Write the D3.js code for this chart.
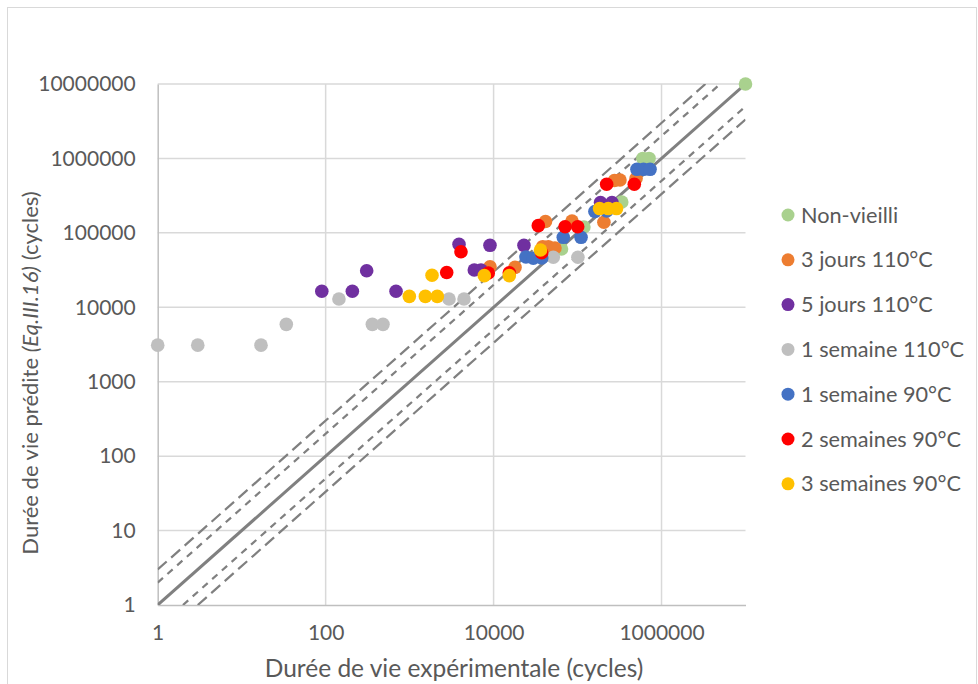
<!DOCTYPE html>
<html>
<head>
<meta charset="utf-8">
<script src="https://cdn.jsdelivr.net/npm/d3@7"></script>
<style>
  html, body { margin: 0; padding: 0; background: #fff; }
  svg { display: block; }
  text { font-family: Lato, "Open Sans", sans-serif; fill: #595959; }
</style>
</head>
<body>
<svg id="chart" width="978" height="684"></svg>
<script>
// ---- Data ----
const seriesNames = ["Non-vieilli", "3 jours 110°C", "5 jours 110°C", "1 semaine 110°C",
                     "1 semaine 90°C", "2 semaines 90°C", "3 semaines 90°C"];
const seriesColors = ["#a9d18e", "#ed7d31", "#7030a0", "#bfbfbf", "#4472c4", "#ff0000", "#ffc000"];

const nonVieilliX = [64400, 119000, 336000, 600000, 710000, 10000000];
const nonVieilliY = [60700, 120000, 260000, 1000000, 1000000, 10000000];

const jours3X = [9060, 18000, 38500, 44900, 53800, 41500, 85900, 206000, 275000, 320000, 497000];
const jours3Y = [35100, 34400, 65200, 65200, 62600, 142000, 144000, 139000, 505000, 513000, 537000];

const jours5X = [90, 208, 308, 689, 3875, 9060, 5890, 7080, 23000, 187600, 257000];
const jours5Y = [16400, 16400, 31000, 16400, 70200, 68000, 31700, 31700, 68000, 256000, 256000];

const sem1_110X = [1, 3, 17, 34, 144, 360, 482, 2945, 4445, 51400, 101000];
const sem1_110Y = [3100, 3100, 3100, 5900, 12900, 5900, 5900, 12900, 12900, 47000, 47000];

const sem1_90X = [24300, 29700, 37400, 67600, 110000, 161000, 222000, 510000, 610000, 730000];
const sem1_90Y = [47400, 45500, 46000, 87100, 87100, 194000, 197000, 714000, 714000, 714000];

const sem2_90X = [2765, 4090, 8650, 15400, 37400, 34100, 71000, 100400, 222000, 474000];
const sem2_90Y = [29300, 55800, 28900, 29000, 54100, 125000, 121000, 121000, 449000, 449000];

const sem3_90X = [992, 1540, 2135, 1848, 7750, 15400, 36200, 183000, 232000, 291000];
const sem3_90Y = [14000, 14000, 14000, 26900, 26600, 26600, 58900, 212000, 212000, 212000];

const seriesX = [nonVieilliX, jours3X, jours5X, sem1_110X, sem1_90X, sem2_90X, sem3_90X];
const seriesY = [nonVieilliY, jours3Y, jours5Y, sem1_110Y, sem1_90Y, sem2_90Y, sem3_90Y];

// reference lines y = k * x
const refFactors = [1, 2, 0.5, 3, 1/3];
const refDash = [null, "7,6", "7,6", "12,6", "12,6"];

const xTicks = [1, 100, 10000, 1000000];
const yTicks = [1, 10, 100, 1000, 10000, 100000, 1000000, 10000000];
const domainMin = 1, domainMax = 10000000;

const xTitle = "Durée de vie expérimentale (cycles)";

// ---- Layout ----
const svg = d3.select("#chart");
const plotLeft = 157.7, plotRight = 745.5, plotTop = 84, plotBottom = 605;

const x = d3.scaleLog().domain([domainMin, domainMax]).range([plotLeft, plotRight]);
const y = d3.scaleLog().domain([domainMin, domainMax]).range([plotBottom, plotTop]);

// chart border
svg.append("rect").attr("x", 7.5).attr("y", 7.5).attr("width", 969).attr("height", 700)
  .attr("fill", "none").attr("stroke", "#d9d9d9").attr("stroke-width", 1);

// gridlines
svg.append("g").selectAll("line").data(yTicks.filter(d => d > domainMin)).join("line")
  .attr("x1", plotLeft).attr("x2", plotRight)
  .attr("y1", d => y(d)).attr("y2", d => y(d))
  .attr("stroke", "#d9d9d9").attr("stroke-width", 1.5);
svg.append("g").selectAll("line").data(xTicks.filter(d => d > domainMin)).join("line")
  .attr("x1", d => x(d)).attr("x2", d => x(d))
  .attr("y1", plotTop).attr("y2", plotBottom)
  .attr("stroke", "#d9d9d9").attr("stroke-width", 1.5);

// axes (lines + labels)
const xAxis = d3.axisBottom(x).tickValues(xTicks).tickSize(0).tickPadding(20)
  .tickFormat(d3.format("d"));
const gx = svg.append("g").attr("transform", `translate(0,${plotBottom})`).call(xAxis);
gx.select(".domain").attr("stroke", "#bfbfbf").attr("stroke-width", 1.5);
gx.selectAll("text").style("font-size", "21px").attr("fill", "#595959")
  .style("font-family", "Lato, 'Open Sans', sans-serif");

const yAxis = d3.axisLeft(y).tickValues(yTicks).tickSize(0).tickPadding(22)
  .tickFormat(d3.format("d"));
const gy = svg.append("g").attr("transform", `translate(${plotLeft},0)`).call(yAxis);
gy.select(".domain").attr("stroke", "#bfbfbf").attr("stroke-width", 1.5);
gy.selectAll("text").style("font-size", "21px").attr("fill", "#595959")
  .style("font-family", "Lato, 'Open Sans', sans-serif");

// clip
svg.append("clipPath").attr("id", "plotclip").append("rect")
  .attr("x", plotLeft).attr("y", plotTop).attr("width", plotRight - plotLeft)
  .attr("height", plotBottom - plotTop);

// reference lines
const lineG = svg.append("g").attr("clip-path", "url(#plotclip)");
refFactors.forEach((k, i) => {
  const x0 = Math.max(domainMin, domainMin / k), x1 = Math.min(domainMax, domainMax / k);
  const seg = [[x0, x0 * k], [x1, x1 * k]];
  lineG.append("path")
    .attr("d", d3.line().x(d => x(d[0])).y(d => y(d[1]))(seg))
    .attr("fill", "none")
    .attr("stroke", "#808080")
    .attr("stroke-width", i === 0 ? 3 : 2.25)
    .attr("stroke-dasharray", refDash[i]);
});

// points
seriesNames.forEach((name, i) => {
  const data = seriesX[i].map((v, j) => [v, seriesY[i][j]]);
  svg.append("g").selectAll("circle").data(data).join("circle")
    .attr("cx", d => x(d[0])).attr("cy", d => y(d[1]))
    .attr("r", 6.8).attr("fill", seriesColors[i]);
});

// axis titles
svg.append("text").attr("x", 454).attr("y", 677).attr("text-anchor", "middle")
  .style("font-size", "24.5px").text(xTitle);

const yt = svg.append("text").attr("transform", "translate(38,373) rotate(-90)")
  .attr("text-anchor", "middle").style("font-size", "22px");
yt.append("tspan").text("Durée de vie prédite ");
yt.append("tspan").style("font-style", "italic").text("(Eq.III.16)");
yt.append("tspan").text(" (cycles)");

// legend
const legendY0 = 215, legendStep = 44.8;
const lg = svg.append("g");
seriesNames.forEach((name, i) => {
  const ly = legendY0 + i * legendStep;
  lg.append("circle").attr("cx", 788).attr("cy", ly).attr("r", 6.5).attr("fill", seriesColors[i]);
  lg.append("text").attr("x", 801).attr("y", ly).attr("dy", "0.35em")
    .style("font-size", "21.7px").text(name);
});
</script>
</body>
</html>
